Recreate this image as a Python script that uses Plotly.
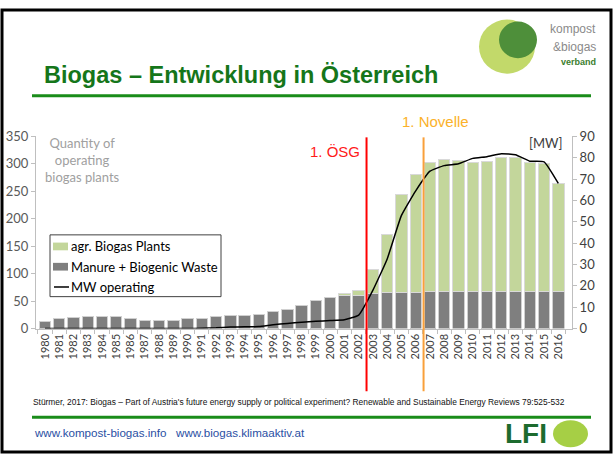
"""
Biogas in Austria: operating plants (stacked bars) and installed MW (line), slide layout.
"""

import plotly.graph_objects as go

W, H = 613, 462

YEARS = list(range(1980, 2017))
MANURE_WASTE = [12, 18, 20, 21, 22, 21, 18, 15, 15, 15, 18, 19, 22, 24, 23, 26, 31, 35, 41,
                51, 57, 60, 60, 63, 66, 66, 66, 67, 67, 67, 67, 67, 67, 67, 67, 67, 67]
AGR_PLANTS = [None] * 21 + [3, 10, 45, 106, 178, 214, 236, 241, 239, 236, 237, 245, 244,
                            236, 234, 197]
MW_OPERATING = [0, 0, 0, 0, 0, 0, 0, 0, 0, 0, 0, 0.1, 0.3, 0.7, 0.8, 0.9, 1.8, 2.4, 2.9,
                3.4, 3.7, 4.1, 6.3, 18, 32.6, 53, 64.5, 73.7, 76.3, 77.2, 79.7, 80.5, 81.9,
                81.4, 78.4, 78.1, 68]

OESG_YEAR = 2002.55
NOVELLE_YEAR = 2006.55

GREEN_BAR = "#c3d69b"
GRAY_BAR = "#7f7f7f"

CHART_FONT = "Lato"
SLIDE_FONT = "Liberation Sans"


def px(x, y):
    """Pixel position on the slide -> paper coordinates."""
    return x / W, 1 - y / H


def add_text(fig, x, y, text, size, color, family=SLIDE_FONT, xanchor="center", **kw):
    xp, yp = px(x, y)
    fig.add_annotation(
        x=xp, y=yp, xref="paper", yref="paper", text=text, showarrow=False,
        xanchor=xanchor, yanchor="middle",
        font=dict(family=family, size=size, color=color), **kw,
    )


def add_box(fig, x0, y0, x1, y1, **kw):
    a, b = px(x0, y0)
    c, d = px(x1, y1)
    fig.add_shape(xref="paper", yref="paper", x0=a, x1=c, y0=d, y1=b, **kw)


fig = go.Figure()

# ── Bars + line ───────────────────────────────────────────────────────────
fig.add_trace(go.Bar(
    x=YEARS, y=MANURE_WASTE, name="Manure + Biogenic Waste",
    marker=dict(color=GRAY_BAR, line=dict(color="#d0d0d0", width=1)),
    width=0.8,
))
fig.add_trace(go.Bar(
    x=YEARS, y=AGR_PLANTS, name="agr. Biogas Plants",
    marker=dict(color=GREEN_BAR, line=dict(color="#d9d9d9", width=1)),
    width=0.8,
))
fig.add_trace(go.Scatter(
    x=YEARS, y=MW_OPERATING, name="MW operating", yaxis="y2",
    mode="lines", line=dict(color="black", width=1.5, shape="spline", smoothing=0.4),
))

# ── Axes ──────────────────────────────────────────────────────────────────
x0, y0 = px(36, 332)
x1, y1 = px(572, 133)
fig.update_layout(
    xaxis=dict(
        domain=[x0, x1], range=[1979.37, 2016.96],
        tickmode="linear", tick0=1980, dtick=1, ticks="",
        tickangle=-90, tickfont=dict(family=CHART_FONT, size=11, color="#404040"),
        showline=True, linecolor="#bfbfbf", linewidth=1,
        showgrid=False, zeroline=False,
        minor=dict(ticks="outside", tick0=1979.5, dtick=1, ticklen=4,
                   tickcolor="#bfbfbf", showgrid=False),
    ),
    yaxis=dict(
        domain=[y0, y1], range=[0, 350], dtick=50,
        ticks="outside", ticklen=4, tickcolor="#bfbfbf",
        tickfont=dict(family=CHART_FONT, size=13, color="#595959"),
        showline=True, linecolor="#bfbfbf", showgrid=False, zeroline=False,
    ),
    yaxis2=dict(
        overlaying="y", side="right", anchor="x", range=[0, 90], dtick=10,
        ticks="outside", ticklen=4, tickcolor="#bfbfbf",
        tickfont=dict(family=CHART_FONT, size=13, color="#404040"),
        showline=True, linecolor="#bfbfbf", showgrid=False, zeroline=False,
    ),
)

# ── Legend (drawn by hand to match the Excel box) ─────────────────────────
add_box(fig, 50, 235, 221, 299, type="rect", fillcolor="white",
        line=dict(color="#404040", width=1))
add_box(fig, 53, 243, 68, 251, type="rect", fillcolor=GREEN_BAR, line=dict(width=0))
add_box(fig, 53, 264, 68, 272, type="rect", fillcolor=GRAY_BAR, line=dict(width=0))
add_box(fig, 54, 289, 69, 289, type="line", line=dict(color="black", width=1.5))
add_text(fig, 69, 247, "agr. Biogas Plants", 13, "#000000", family=CHART_FONT,
         xanchor="left")
add_text(fig, 69, 268, "Manure + Biogenic Waste", 13, "#000000", family=CHART_FONT,
         xanchor="left")
add_text(fig, 69, 289, "MW operating", 13, "#000000", family=CHART_FONT, xanchor="left")

# ── Legislation markers ───────────────────────────────────────────────────
ly0 = px(0, 397)[1]
ly1 = px(0, 134)[1]
for xv, col in [(OESG_YEAR, "#ff0000"), (NOVELLE_YEAR, "#f9a03a")]:
    fig.add_shape(type="line", xref="x", yref="paper", x0=xv, x1=xv, y0=ly0, y1=ly1,
                  line=dict(color=col, width=2))
add_text(fig, 335, 149, "1. ÖSG", 15, "#ff1a1a")
add_text(fig, 435, 118, "1. Novelle", 15, "#fbb12a")
add_text(fig, 546, 140, "[MW]", 13, "#404040", family=CHART_FONT)
add_text(fig, 82, 157, "Quantity of<br>operating<br>biogas plants", 13, "#a0a0a0",
         family=CHART_FONT)

# ── Slide decoration ──────────────────────────────────────────────────────
add_text(fig, 42, 69, "<b>Biogas – Entwicklung in Österreich</b>", 23.5, "#15761a",
         xanchor="left")
for yline in (91, 424):
    add_box(fig, 32, yline, 591, yline, type="line", line=dict(color="#1a8c1a", width=3))
add_text(fig, 31, 408,
         "Stürmer, 2017: Biogas – Part of Austria's future energy supply or political "
         "experiment? Renewable and Sustainable Energy Reviews 79:525-532",
         8.4, "#111111", xanchor="left")
add_text(fig, 32, 440, "www.kompost-biogas.info &nbsp; www.biogas.klimaaktiv.at", 11.6,
         "#2a4fa3", xanchor="left")

# top right logo
for (cx, cy, r, col) in [(507, 40, 28, "#c2d96a"), (518, 33, 19, "#4e8f3a")]:
    add_box(fig, cx - r, cy - r, cx + r, cy + r, type="circle", fillcolor=col,
            line=dict(width=0))
add_text(fig, 598, 22, "kompost", 12, "#8a8a8a", xanchor="right")
add_text(fig, 598, 40, "&biogas", 12, "#8a8a8a", xanchor="right")
add_text(fig, 598, 56, "<b>verband</b>", 9, "#3b7d2e", xanchor="right")

# bottom right logo
add_text(fig, 503, 441, "<b>LFI</b>", 28, "#1d6b2e", xanchor="left")
add_box(fig, 553, 427, 588, 455, type="circle", fillcolor="#a6cf45", line=dict(width=0))

# slide frame
fig.add_shape(type="rect", xref="paper", yref="paper",
              x0=2 / W, x1=1 - 2 / W, y0=2 / H, y1=1 - 2 / H,
              line=dict(color="black", width=3))

fig.update_layout(
    width=W, height=H,
    margin=dict(l=0, r=0, t=0, b=0),
    barmode="stack", bargap=0.2,
    paper_bgcolor="white", plot_bgcolor="white",
    showlegend=False,
)

fig.write_html("out.html", config={"displayModeBar": False},
               post_script="document.body.style.margin='0';")
